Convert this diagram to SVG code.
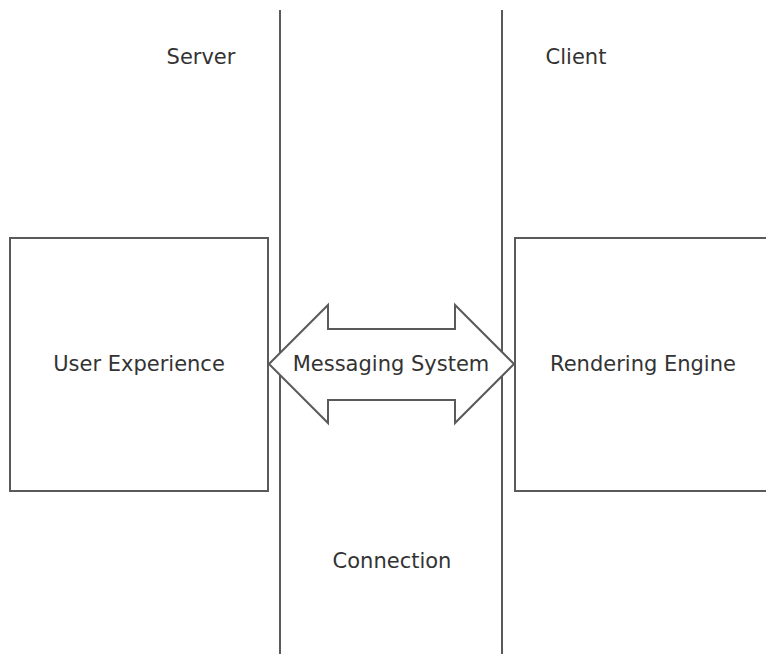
<svg xmlns="http://www.w3.org/2000/svg" width="766" height="654" viewBox="0 0 766 654">
<style>
.ln{stroke:#5a5a5a;stroke-width:2;fill:none}
.bx{stroke:#5a5a5a;stroke-width:2;fill:#ffffff}
.t{font-family:"DejaVu Sans","Verdana",sans-serif;font-size:21px;fill:#333333;text-anchor:middle}
</style>
<rect width="766" height="654" fill="#ffffff"/>
<g id="lanes">
<line class="ln" x1="280" y1="10" x2="280" y2="654"/>
<line class="ln" x1="502" y1="10" x2="502" y2="654"/>
<text class="t" x="201" y="64">Server</text>
<text class="t" x="576" y="64">Client</text>
<text class="t" x="392" y="568">Connection</text>
</g>
<g id="user-experience">
<rect class="bx" x="10" y="238" width="258" height="253"/>
<text class="t" x="139" y="371">User Experience</text>
</g>
<g id="rendering-engine">
<rect class="bx" x="515" y="238" width="260" height="253"/>
<text class="t" x="643" y="371">Rendering Engine</text>
</g>
<g id="connectors">
<g id="messaging-system">
<polygon class="bx" points="269,364 328,305 328,329 455,329 455,305 514,364 455,423 455,400 328,400 328,423"/>
<text class="t" x="391" y="371">Messaging System</text>
</g>
</g>
</svg>
